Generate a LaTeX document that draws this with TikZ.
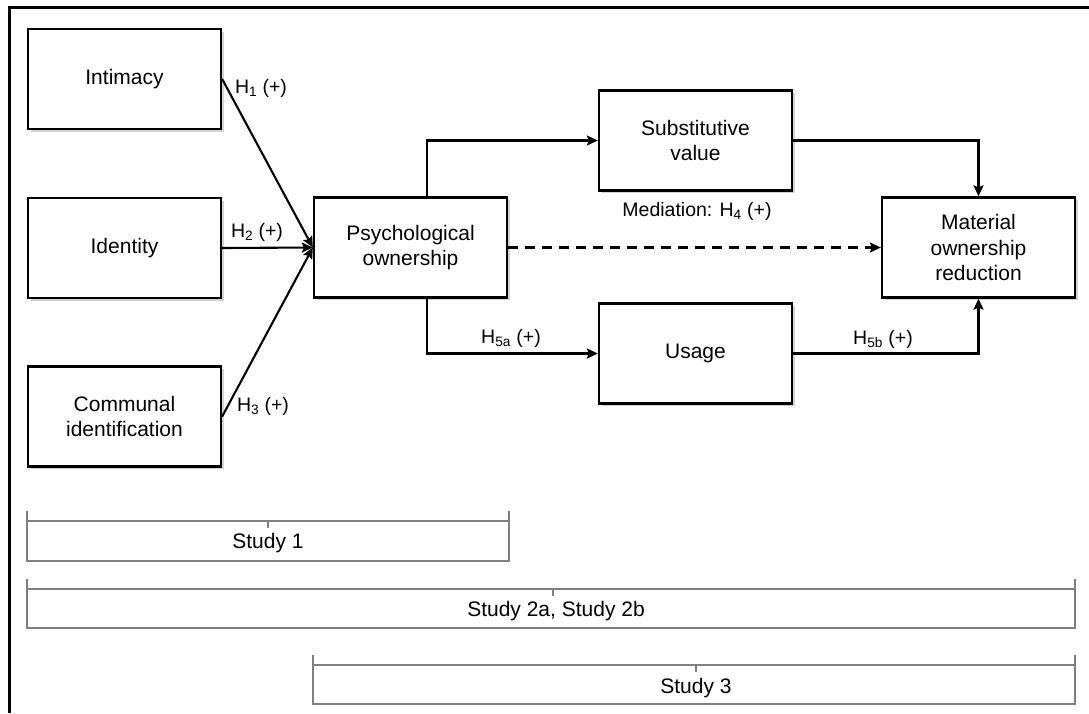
\documentclass[tikz,border=0pt]{standalone}
\usepackage{fontspec}
\setmainfont{Liberation Sans}
\usetikzlibrary{arrows.meta,shadows}

\tikzset{
  box/.style={draw, line width=2.3pt, fill=white, minimum width=193pt, minimum height=100pt,
    align=center, font=\fontsize{21pt}{25.5pt}\selectfont,
    drop shadow={shadow xshift=2.5pt, shadow yshift=-2.5pt, fill=black!35}},
  link/.style={line width=2.1pt, -{Stealth[length=11pt,width=10pt,inset=2pt]}},
  hyp/.style={font=\fontsize{19.5pt}{23pt}\selectfont, inner sep=0pt},
  studyline/.style={draw=black!50, line width=1.8pt},
  studytext/.style={font=\fontsize{21pt}{25pt}\selectfont, inner sep=0pt},
}
\newcommand{\hyplab}[1]{H\textsubscript{#1} (+)}

\begin{document}
\begin{tikzpicture}[x=1pt,y=-1pt]
\useasboundingbox (0,0) rectangle (1089,713);
%frame
\draw[line width=3pt] (9,713) -- (9,7) -- (1089,7);

%antecedents
\node[box] (intim) at (124.5,79) {Intimacy};
\node[box] (ident) at (124.5,248) {Identity};
\node[box] (commun) at (124.5,416.5) {Communal\\identification};
%mediators and outcome
\node[box] (psych) at (410.5,247.5) {Psychological\\ownership};
\node[box] (subst) at (695.5,140.5) {Substitutive\\value};
\node[box] (usage) at (695.5,353.5) {Usage};
\node[box] (mat) at (978.5,247.5) {Material\\ownership\\reduction};

%paths
\draw[link] (intim.east) -- (psych.west);
\draw[link] (ident.east) -- (psych.west);
\draw[link] (commun.east) -- (psych.west);
\draw[link] ([xshift=16.5pt]psych.north) |- (subst.west);
\draw[link] (subst.east) -| (mat.north);
\draw[link] ([xshift=16.5pt]psych.south) |- (usage.west);
\draw[link] (usage.east) -| (mat.south);
\draw[link, dash pattern=on 10pt off 7pt] (psych.east) -- (mat.west);

%hypotheses
\node[hyp] (h1) at (261,88) {\hyplab{1}};
\node[hyp] (h2) at (257,232) {\hyplab{2}};
\node[hyp] (h3) at (263,406) {\hyplab{3}};
\node[hyp] (h4) at (697,211) {Mediation: \hyplab{4}};
\node[hyp] (h5a) at (511,338) {\hyplab{5a}};
\node[hyp] (h5b) at (883,339) {\hyplab{5b}};

%studies
\draw[studyline] (27,511) -- (27,561) -- (509,561) -- (509,511);
\draw[studyline] (27,521) -- (509,521);
\draw[studyline] (268,521) -- (268,528);
\node[studytext] (study1) at (268,543) {Study 1};

\draw[studyline] (27,579) -- (27,628) -- (1075,628) -- (1075,579);
\draw[studyline] (27,589) -- (1075,589);
\draw[studyline] (553,589) -- (553,596);
\node[studytext] (study2) at (556,611) {Study 2a, Study 2b};

\draw[studyline] (313,655) -- (313,704) -- (1075,704) -- (1075,655);
\draw[studyline] (313,665) -- (1075,665);
\draw[studyline] (696,665) -- (696,672);
\node[studytext] (study3) at (696,688) {Study 3};
\end{tikzpicture}
\end{document}
